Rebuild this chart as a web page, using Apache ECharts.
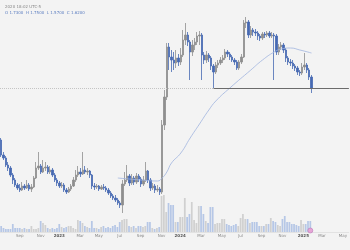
<!DOCTYPE html>
<html>
<head>
<meta charset="utf-8">
<script src="https://cdn.jsdelivr.net/npm/echarts@6/dist/echarts.min.js"></script>
<style>
  html, body { margin: 0; padding: 0; background: #f3f3f3; }
  #chart { width: 350px; height: 250px; }
</style>
</head>
<body>
<div id="chart"></div>
<script>
// weekly candles, first week 2022-07-11, axis runs on to May 2025
const startWeek = Date.UTC(2022, 6, 11)
const weekCount = 150

const opens = [
  1.10, 0.95, 0.92, 0.85, 0.82, 0.75, 0.70, 0.65, 0.62, 0.60,
  0.64, 0.62, 0.65, 0.61, 0.63, 0.72, 0.82, 0.84, 0.78, 0.82,
  0.83, 0.78, 0.80, 0.75, 0.70, 0.67, 0.64, 0.65, 0.60, 0.58,
  0.61, 0.64, 0.70, 0.75, 0.78, 0.76, 0.80, 0.78, 0.79, 0.75,
  0.64, 0.63, 0.64, 0.61, 0.63, 0.62, 0.60, 0.57, 0.54, 0.52,
  0.50, 0.47, 0.45, 0.66, 0.70, 0.74, 0.67, 0.72, 0.68, 0.74,
  0.71, 0.66, 0.70, 0.79, 0.70, 0.62, 0.64, 0.60, 0.61, 0.58,
  1.25, 1.53, 2.03, 1.93, 1.90, 1.87, 1.92, 1.88, 1.95, 2.10,
  2.15, 2.08, 1.98, 2.05, 2.08, 2.14, 2.15, 1.95, 1.90, 1.95,
  1.92, 1.84, 1.78, 1.85, 1.87, 1.90, 1.92, 1.98, 1.96, 1.93,
  1.90, 1.88, 1.82, 1.88, 1.93, 2.27, 2.28, 2.15, 2.20, 2.18,
  2.17, 2.14, 2.12, 2.16, 2.15, 2.17, 2.14, 2.15, 2.14, 1.98,
  2.03, 2.05, 2.00, 1.92, 1.88, 1.87, 1.84, 1.82, 1.78, 1.77,
  1.83, 1.85, 1.80, 1.73
]
const closes = [
  0.95, 0.92, 0.85, 0.82, 0.75, 0.70, 0.65, 0.62, 0.60, 0.64,
  0.62, 0.65, 0.61, 0.63, 0.72, 0.82, 0.84, 0.78, 0.82, 0.83,
  0.78, 0.80, 0.75, 0.70, 0.67, 0.64, 0.65, 0.60, 0.58, 0.61,
  0.64, 0.70, 0.75, 0.78, 0.76, 0.80, 0.78, 0.79, 0.75, 0.64,
  0.63, 0.64, 0.61, 0.63, 0.62, 0.60, 0.57, 0.54, 0.52, 0.50,
  0.47, 0.45, 0.66, 0.70, 0.74, 0.67, 0.72, 0.68, 0.74, 0.71,
  0.66, 0.70, 0.79, 0.70, 0.62, 0.64, 0.60, 0.61, 0.58, 1.25,
  1.53, 2.03, 1.93, 1.90, 1.87, 1.92, 1.88, 1.95, 2.10, 2.15,
  2.08, 1.98, 2.05, 2.08, 2.14, 2.15, 1.95, 1.90, 1.95, 1.92,
  1.84, 1.78, 1.85, 1.87, 1.90, 1.92, 1.98, 1.96, 1.93, 1.90,
  1.88, 1.82, 1.88, 1.93, 2.27, 2.28, 2.15, 2.20, 2.18, 2.17,
  2.14, 2.12, 2.16, 2.15, 2.17, 2.14, 2.15, 2.14, 1.98, 2.03,
  2.05, 2.00, 1.92, 1.88, 1.87, 1.84, 1.82, 1.78, 1.77, 1.83,
  1.85, 1.80, 1.73, 1.62
]
const lows = [
  0.93, 0.90, 0.83, 0.79, 0.73, 0.66, 0.63, 0.60, 0.58, 0.59,
  0.60, 0.61, 0.59, 0.58, 0.62, 0.71, 0.80, 0.76, 0.77, 0.79,
  0.76, 0.76, 0.73, 0.68, 0.64, 0.62, 0.62, 0.58, 0.56, 0.57,
  0.59, 0.63, 0.68, 0.73, 0.73, 0.75, 0.76, 0.75, 0.72, 0.61,
  0.60, 0.61, 0.59, 0.60, 0.60, 0.58, 0.55, 0.52, 0.50, 0.48,
  0.45, 0.42, 0.37, 0.64, 0.68, 0.64, 0.65, 0.65, 0.66, 0.68,
  0.63, 0.64, 0.68, 0.67, 0.59, 0.60, 0.57, 0.58, 0.55, 0.56,
  1.20, 1.50, 1.80, 1.78, 1.80, 1.82, 1.84, 1.85, 1.93, 2.05,
  2.04, 1.70, 1.94, 2.00, 2.05, 2.05, 1.70, 1.86, 1.87, 1.88,
  1.80, 1.62, 1.76, 1.82, 1.85, 1.87, 1.90, 1.93, 1.90, 1.88,
  1.85, 1.80, 1.80, 1.86, 1.92, 2.22, 2.12, 2.12, 2.14, 2.14,
  2.10, 2.09, 2.10, 2.12, 2.13, 2.12, 2.12, 1.70, 1.95, 1.95,
  2.00, 1.97, 1.88, 1.85, 1.84, 1.81, 1.79, 1.75, 1.74, 1.75,
  1.80, 1.77, 1.70, 1.57
]
const highs = [
  1.12, 0.98, 0.94, 0.88, 0.84, 0.77, 0.72, 0.67, 0.66, 0.68,
  0.66, 0.70, 0.67, 0.66, 0.74, 0.88, 0.98, 0.86, 0.90, 0.88,
  0.85, 0.84, 0.82, 0.77, 0.72, 0.69, 0.68, 0.67, 0.62, 0.63,
  0.66, 0.73, 0.80, 0.84, 0.82, 0.98, 0.84, 0.82, 0.80, 0.76,
  0.67, 0.66, 0.65, 0.65, 0.66, 0.64, 0.62, 0.59, 0.56, 0.55,
  0.52, 0.49, 0.70, 0.78, 0.85, 0.76, 0.76, 0.74, 0.77, 0.76,
  0.73, 0.74, 0.88, 0.80, 0.72, 0.67, 0.66, 0.65, 0.63, 1.30,
  1.60, 2.07, 2.07, 2.00, 1.98, 2.00, 1.96, 2.02, 2.20, 2.27,
  2.18, 2.10, 2.10, 2.12, 2.18, 2.19, 2.17, 1.98, 1.99, 1.97,
  1.94, 1.86, 1.88, 1.90, 1.93, 1.95, 2.01, 2.00, 1.98, 1.95,
  1.92, 1.90, 1.90, 1.96, 2.30, 2.33, 2.30, 2.24, 2.22, 2.21,
  2.19, 2.16, 2.18, 2.18, 2.19, 2.19, 2.18, 2.17, 2.16, 2.06,
  2.08, 2.07, 2.02, 1.94, 1.91, 1.90, 1.86, 1.84, 1.80, 1.87,
  1.97, 1.87, 1.82, 1.75
]
const volumes = [
  6, 4, 3, 3, 3, 8, 4, 4, 4, 3,
  4, 3, 3, 6, 3, 3, 4, 11, 9, 7,
  4, 3, 4, 3, 4, 8, 5, 4, 5, 6,
  6, 4, 3, 12, 11, 9, 6, 5, 4, 11,
  4, 4, 3, 5, 6, 4, 5, 4, 6, 7,
  5, 10, 12, 13, 13, 6, 5, 6, 4, 6,
  6, 5, 6, 10, 10, 4, 3, 4, 5, 36,
  37, 20, 29, 27, 27, 10, 10, 15, 15, 34,
  15, 18, 30, 12, 9, 26, 26, 18, 11, 9,
  25, 25, 8, 9, 9, 13, 13, 8, 7, 6,
  7, 8, 6, 14, 18, 13, 13, 9, 10, 10,
  10, 6, 6, 6, 8, 8, 14, 11, 10, 7,
  6, 13, 16, 10, 10, 8, 8, 7, 6, 12,
  8, 8, 11, 11
]
// moving average read at a few weeks only
const maWeeks = [50, 60, 67, 69, 71, 73, 77, 81, 85, 89, 92, 98, 107, 112, 117, 120, 124, 128, 133]
const maValues = [0.72, 0.70, 0.69, 0.72, 0.78, 0.87, 0.97, 1.12, 1.26, 1.40, 1.49, 1.62, 1.80, 1.90, 1.98, 2.01, 2.02, 2.00, 1.97]
const rayStartWeek = 91
const levelPrice = 1.62

const monthNames = ['Jan', 'Feb', 'Mar', 'Apr', 'May', 'Jun', 'Jul', 'Aug', 'Sep', 'Oct', 'Nov', 'Dec']
const dates = []
for (let i = 0; i < weekCount; i++) {
  dates.push(new Date(startWeek + i * 7 * 86400000).toISOString().slice(0, 10))
}

const upColor = '#8e8e8e'
const downColor = '#4669b2'

const candles = opens.map((o, i) => [o, closes[i], lows[i], highs[i]])
const volData = volumes.map((v, i) => ({
  value: v,
  itemStyle: { color: closes[i] >= opens[i] ? '#d0d0d0' : '#b6c7e6' },
}))
const maData = dates.map(() => null)
maWeeks.forEach((w, k) => { maData[w] = maValues[k] })

function showLabel(index, value) {
  if (index === 0) return false
  const m = Number(value.slice(5, 7)) - 1
  const pm = Number(dates[index - 1].slice(5, 7)) - 1
  return m !== pm && m % 2 === 0
}

const chart = echarts.init(document.getElementById('chart'), null, { renderer: 'canvas' })

const option = {
  backgroundColor: '#f3f3f3',
  animation: false,
  title: [
    {
      text: '2020 18:02 UTC-5',
      left: 0,
      top: 0,
      textStyle: { fontSize: 4, color: '#888', fontWeight: 'normal', fontFamily: 'DejaVu Sans' },
    },
    {
      text: 'O 1.7300  H 1.7500  L 1.5700  C 1.6200',
      left: 0,
      top: 6,
      textStyle: { fontSize: 4, color: '#5b7dc0', fontWeight: 'normal', fontFamily: 'DejaVu Sans' },
    },
  ],
  grid: [
    { left: 0, right: 0, top: 0, bottom: 0 },
    { left: 0, right: 0, top: 182, bottom: 18 },
  ],
  xAxis: [
    {
      type: 'category',
      data: dates,
      gridIndex: 0,
      boundaryGap: true,
      axisLine: { show: false },
      axisTick: { show: false },
      axisLabel: { show: false },
      splitLine: { show: false },
    },
    {
      type: 'category',
      data: dates,
      gridIndex: 1,
      boundaryGap: true,
      axisLine: { show: true, lineStyle: { color: '#e2e2e2', width: 1 } },
      axisTick: { show: false },
      axisLabel: {
        interval: showLabel,
        margin: 2,
        fontSize: 4,
        color: '#8a8a8a',
        fontFamily: 'DejaVu Sans',
        formatter: (value) => {
          const m = Number(value.slice(5, 7)) - 1
          if (m === 0) return '{y|' + value.slice(0, 4) + '}'
          return monthNames[m]
        },
        rich: { y: { fontSize: 4, color: '#555', fontWeight: 'bold', fontFamily: 'DejaVu Sans' } },
      },
      splitLine: { show: false },
    },
  ],
  yAxis: [
    { type: 'value', gridIndex: 0, min: 0, max: 2.5, show: false, splitLine: { show: false } },
    { type: 'value', gridIndex: 1, min: 0, max: 50, show: false, splitLine: { show: false } },
  ],
  series: [
    {
      name: 'Volume',
      type: 'bar',
      xAxisIndex: 1,
      yAxisIndex: 1,
      data: volData,
      barWidth: '75%',
      markPoint: {
        symbol: 'circle',
        symbolSize: 5,
        label: { show: false },
        itemStyle: { color: '#e7a6d6', borderColor: '#b06ab0', borderWidth: 0.5 },
        data: [{ coord: [dates[closes.length - 1], 1.5] }],
      },
    },
    {
      name: 'Price',
      type: 'candlestick',
      xAxisIndex: 0,
      yAxisIndex: 0,
      data: candles,
      barWidth: '78%',
      itemStyle: {
        color: upColor,
        color0: downColor,
        borderColor: upColor,
        borderColor0: downColor,
        borderWidth: 0.8,
      },
      markLine: {
        silent: true,
        symbol: ['none', 'none'],
        label: { show: false },
        data: [
          { yAxis: levelPrice, lineStyle: { color: '#c4c4c4', type: 'dotted', width: 1 } },
          [
            { coord: [dates[rayStartWeek], levelPrice], lineStyle: { color: '#6b6b6b', type: 'solid', width: 1 } },
            { coord: [dates[weekCount - 1], levelPrice] },
          ],
        ],
      },
    },
    {
      name: 'MA',
      type: 'line',
      xAxisIndex: 0,
      yAxisIndex: 0,
      data: maData,
      connectNulls: true,
      smooth: true,
      showSymbol: false,
      lineStyle: { color: '#9fb4de', width: 0.8 },
    },
  ],
}

chart.setOption(option)
</script>
</body>
</html>
